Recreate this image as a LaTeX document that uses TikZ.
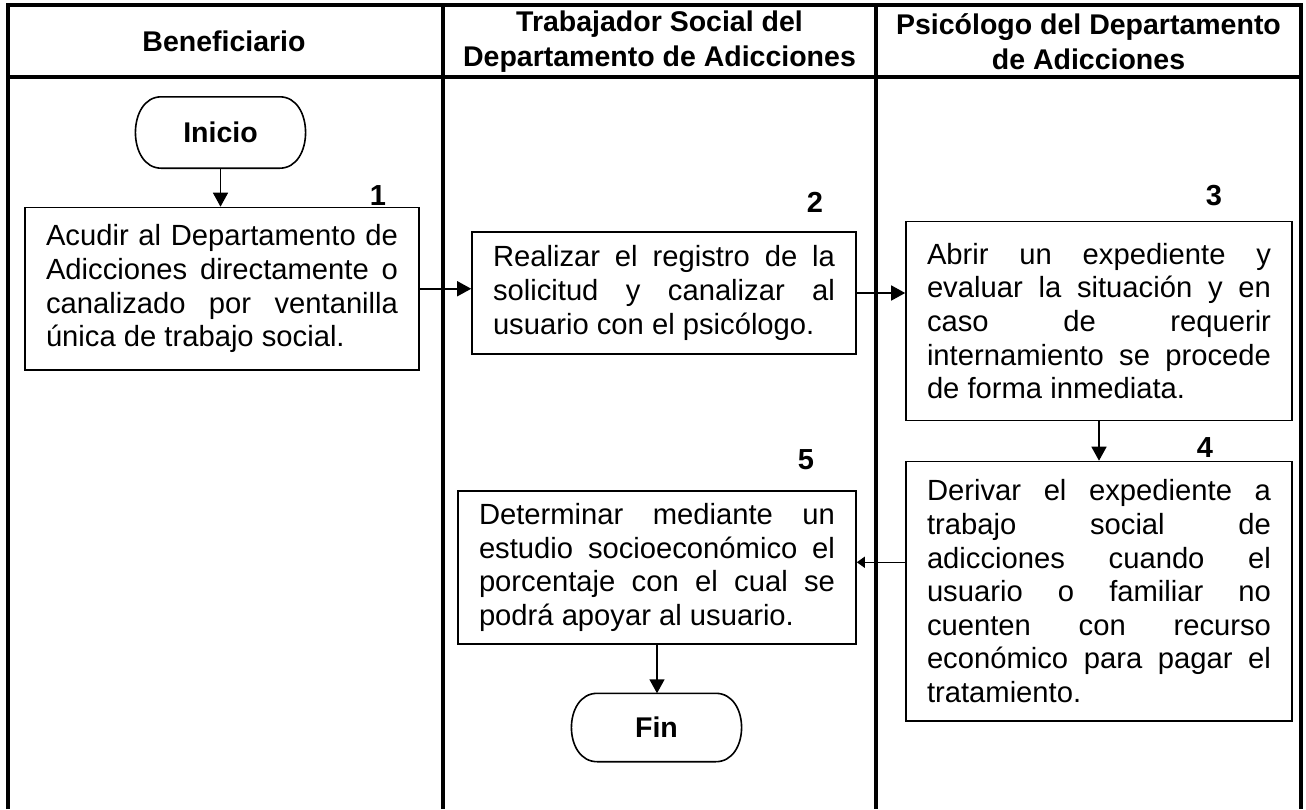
\documentclass[tikz,border=0pt]{standalone}
\usepackage{fontspec}
\setmainfont{Liberation Sans}
\usetikzlibrary{arrows.meta}
\tolerance=10000
\hbadness=10000
\hyphenpenalty=10000
\exhyphenpenalty=10000
\begin{document}
\begin{tikzpicture}[x=1pt,y=-1pt,
  lane/.style={line width=3.8pt},
  hdr/.style={font=\fontsize{28.5}{35}\selectfont\bfseries, align=center, inner sep=0pt},
  stepbox/.style={draw, line width=1.6pt, align=justify, font=\fontsize{29.2}{33.6}\selectfont, inner sep=0pt},
  term/.style={minimum width=170pt, font=\fontsize{28.5}{33}\selectfont\bfseries, inner sep=0pt},
  termline/.style={line width=1.6pt},
  num/.style={font=\fontsize{29}{30}\selectfont\bfseries, inner sep=0pt},
  flow/.style={line width=1.5pt, -{Triangle[length=14pt,width=15pt]}},
  smallflow/.style={line width=1.5pt, -{Triangle[length=8pt,width=11pt]}},
]
\useasboundingbox (0,0) rectangle (1306,809);

% swimlane table
\draw[lane] (8,809) -- (8,5) -- (1301,5) -- (1301,809);
\draw[lane] (8,77) -- (1301,77);
\draw[lane] (443,5) -- (443,809);
\draw[lane] (876,5) -- (876,809);

% headers
\node[hdr] (h1) at (224,41) {Beneficiario};
\node[hdr] (h2) at (659.5,41.5) {Trabajador Social del\\Departamento de Adicciones};
\node[hdr] (h3) at (1088.5,41.5) {Psicólogo del Departamento\\de Adicciones};

% terminators
\node[term, minimum height=71pt] (ini) at (220.5,132.5) {Inicio};
\node[term, minimum height=68pt] (fin) at (656.5,727.5) {Fin};
\foreach \t in {ini,fin}{
  \draw[termline] ([xshift=26pt]\t.north west) -- ([xshift=-26pt]\t.north east)
    .. controls ([xshift=8.5pt]\t.north east) and ([xshift=8.5pt]\t.south east) .. ([xshift=-26pt]\t.south east)
    -- ([xshift=26pt]\t.south west)
    .. controls ([xshift=-8.5pt]\t.south west) and ([xshift=-8.5pt]\t.north west) .. ([xshift=26pt]\t.north west) -- cycle;
}

% steps
\node[stepbox, text width=352pt, minimum width=394pt, minimum height=162.5pt] (b1) at (222,288.75)
  {Acudir al Departamento de\linebreak Adicciones directamente o\linebreak canalizado por ventanilla\linebreak única de trabajo social.};
\node[stepbox, text width=342pt, minimum width=384pt, minimum height=122pt] (b2) at (664,293)
  {Realizar el registro de la\linebreak solicitud y canalizar al\linebreak usuario con el psicólogo.};
\node[stepbox, text width=344pt, minimum width=386pt, minimum height=199pt] (b3) at (1099,321)
  {Abrir un expediente y\linebreak evaluar la situación y en\linebreak caso de requerir\linebreak internamiento se procede\linebreak de forma inmediata.};
\node[stepbox, text width=344pt, minimum width=386pt, minimum height=259.5pt] (b4) at (1099,591.25)
  {Derivar el expediente a\linebreak trabajo social de\linebreak adicciones cuando el\linebreak usuario o familiar no\linebreak cuenten con recurso\linebreak económico para pagar el\linebreak tratamiento.};
\node[stepbox, text width=356pt, minimum width=398pt, minimum height=153pt] (b5) at (657,567.5)
  {Determinar mediante un\linebreak estudio socioeconómico el\linebreak porcentaje con el cual se\linebreak podrá apoyar al usuario.};

% step numbers
\node[num] (n1) at (378,196) {1};
\node[num] (n2) at (815,202) {2};
\node[num] (n3) at (1214,196) {3};
\node[num] (n4) at (1205,448) {4};
\node[num] (n5) at (806,460) {5};

% connectors
\draw[flow] (ini.south) -- (b1.north -| ini.south);
\draw[flow] (b1.east) -- (b1.east -| b2.west);
\draw[flow] (b2.east) -- (b2.east -| b3.west);
\draw[flow] (b3.south) -- (b3.south |- b4.north);
\coordinate (a45) at ([yshift=29pt]b4.west);
\draw[smallflow] (a45) -- (a45 -| b5.east);
\draw[flow] (b5.south) -- (b5.south |- fin.north);
\end{tikzpicture}
\end{document}
